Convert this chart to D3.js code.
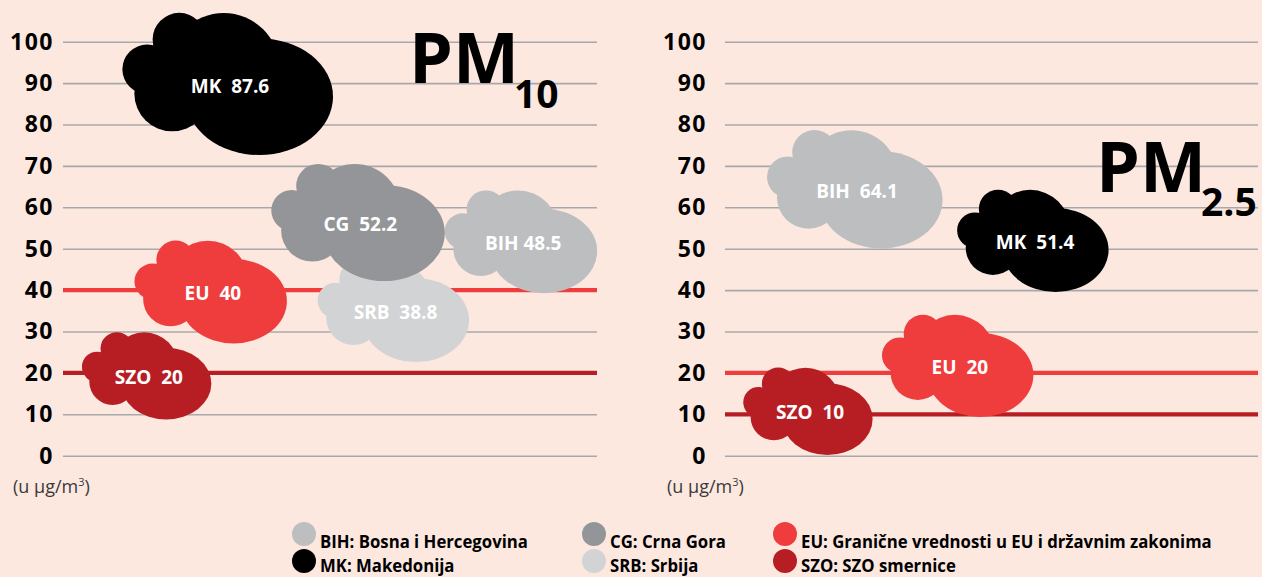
<!DOCTYPE html>
<html><head><meta charset="utf-8">
<script src="https://cdn.jsdelivr.net/npm/d3@7"></script>
<style>
html,body{margin:0;padding:0;background:#fde8e0;}
svg{display:block;}
text{font-family:"Open Sans",sans-serif;}
</style></head><body>
<svg id="chart" width="1262" height="577"></svg>
<script>
// ---------- DATA ----------
const yTicks = [0, 10, 20, 30, 40, 50, 60, 70, 80, 90, 100];
const pm10Codes  = ["SRB", "BIH", "CG", "MK", "EU", "SZO"];
const pm10Values = [38.8, 48.5, 52.2, 87.6, 40, 20];
const pm25Codes  = ["BIH", "MK", "EU", "SZO"];
const pm25Values = [64.1, 51.4, 20, 10];
const legendCodes = ["BIH", "MK", "CG", "SRB", "EU", "SZO"];
const legendNames = ["Bosna i Hercegovina", "Makedonija", "Crna Gora", "Srbija",
                     "Granične vrednosti u EU i državnim zakonima", "SZO smernice"];
const unitText = "(u µg/m";
const unitSup = "3";

// ---------- STYLE / LAYOUT ----------
const colors = {BIH:"#bcbec0", CG:"#939598", SRB:"#d1d3d4", MK:"#000000", EU:"#ef3d3e", SZO:"#b71e24"};
const lineColors = {EU:"#ef3d3e", SZO:"#b71e24"};
const gridColor = "#a8a8aa";

// placement of each cloud: horizontal position (% of plot), vertical nudge (px), cloud width (px)
const pm10Layout = {
  SRB:{x:61.9, dy:16,  w:151, gap:"  "},
  BIH:{x:85.8, dy:-13, w:152, gap:" "},
  CG: {x:55.3, dy:-17, w:173, gap:"  "},
  MK: {x:30.9, dy:-9,  w:210, gap:"  "},
  EU: {x:27.7, dy:2,   w:152, gap:"  "},
  SZO:{x:15.7, dy:3,   w:129, gap:"  "}
};
const pm25Layout = {
  BIH:{x:24.4, dy:-1, w:175, gap:"  "},
  MK: {x:57.8, dy:-2, w:151, gap:"  "},
  EU: {x:43.7, dy:-7, w:151, gap:"  "},
  SZO:{x:15.6, dy:-3, w:129, gap:"  "}
};
// cloud template (relative to cloud width)
const cloudParts = [
  {dx: 0.149, dy: 0.060, rx:0.351, ry:0.278},
  {dx:-0.020, dy:-0.073, rx:0.265, ry:0.265},
  {dx:-0.232, dy:-0.212, rx:0.127, ry:0.127},
  {dx:-0.385, dy:-0.070, rx:0.118, ry:0.118},
  {dx:-0.266, dy: 0.045, rx:0.180, ry:0.180}
];

const svg = d3.select("#chart");
svg.append("rect").attr("width",1262).attr("height",577).attr("fill","#fde8e0");

const y = d3.scaleLinear().domain([0,100]).range([455.7, 41.7]);

const panels = [
  {codes:pm10Codes, values:pm10Values, layout:pm10Layout, x0:63, x1:597, pad:9,
   title:"PM", sub:"10", tx:409, ty:83, sx:514, sy:108, ux:13},
  {codes:pm25Codes, values:pm25Values, layout:pm25Layout, x0:725, x1:1258, pad:18,
   title:"PM", sub:"2.5", tx:1096, ty:192, sx:1201, sy:216, ux:667}
];

panels.forEach(p => {
  const x = d3.scaleLinear().domain([0,100]).range([p.x0, p.x1]);
  const g = svg.append("g");

  // axis + gridlines
  const axis = d3.axisLeft(y).tickValues(yTicks).tickSize(-(p.x1 - p.x0)).tickPadding(p.pad);
  const ag = g.append("g").attr("transform", `translate(${p.x0},0)`).call(axis);
  ag.select(".domain").remove();
  ag.selectAll(".tick line").attr("stroke", gridColor).attr("stroke-width", 1.6);
  ag.selectAll(".tick text")
    .attr("fill","#000").style("font-family",'"Open Sans",sans-serif')
    .style("font-size","23px").style("font-weight","700").style("letter-spacing","1.5px");

  // limit lines (EU, SZO)
  ["EU","SZO"].forEach(c => {
    const v = p.values[p.codes.indexOf(c)];
    g.append("line").attr("x1", p.x0).attr("x2", p.x1)
      .attr("y1", y(v)).attr("y2", y(v))
      .attr("stroke", lineColors[c]).attr("stroke-width", 4.2);
  });

  // title
  g.append("text").attr("x", p.tx).attr("y", p.ty).text(p.title)
    .style("font-size","70px").style("font-weight","700").attr("fill","#000");
  g.append("text").attr("x", p.sx).attr("y", p.sy).text(p.sub)
    .style("font-size","39px").style("font-weight","700").attr("fill","#000");

  // clouds
  p.codes.forEach((c, i) => {
    const L = p.layout[c];
    const cx = x(L.x), cy = y(p.values[i]) + L.dy, w = L.w;
    const cg = g.append("g").attr("fill", colors[c]);
    cg.selectAll("ellipse").data(cloudParts).join("ellipse")
      .attr("cx", d => cx + d.dx * w).attr("cy", d => cy + d.dy * w)
      .attr("rx", d => d.rx * w).attr("ry", d => d.ry * w);
    cg.append("text")
      .attr("x", cx + 2).attr("y", cy + 0.01 * w + 6.8)
      .attr("text-anchor","middle").attr("fill","#fff")
      .style("font-size","19px").style("font-weight","700").style("white-space","pre")
      .text(c + L.gap + p.values[i]);
  });

  // unit label
  const ut = g.append("text").attr("x", p.ux).attr("y", 493)
    .attr("fill","#3a3a3a").style("font-size","18px");
  ut.append("tspan").text(unitText);
  ut.append("tspan").text(unitSup).attr("dy",-7).style("font-size","11px");
  ut.append("tspan").text(")").attr("dy",7);
});

// legend
const legCols = [304, 594, 785];
const legRowsC = [534, 561];
const legRowsT = [548, 572];
const lg = svg.append("g");
legendCodes.forEach((c, i) => {
  const col = Math.floor(i / 2), row = i % 2;
  lg.append("circle").attr("cx", legCols[col]).attr("cy", legRowsC[row]).attr("r", 12)
    .attr("fill", colors[c]);
  const t = lg.append("text").attr("x", legCols[col] + 16).attr("y", legRowsT[row])
    .attr("fill","#000").style("font-size","18px").style("font-weight","700")
    .text(c + ": " + legendNames[i]);
  const len = t.node().getComputedTextLength();
  t.attr("textLength", len * 0.93).attr("lengthAdjust","spacingAndGlyphs");
});
</script>
</body></html>
